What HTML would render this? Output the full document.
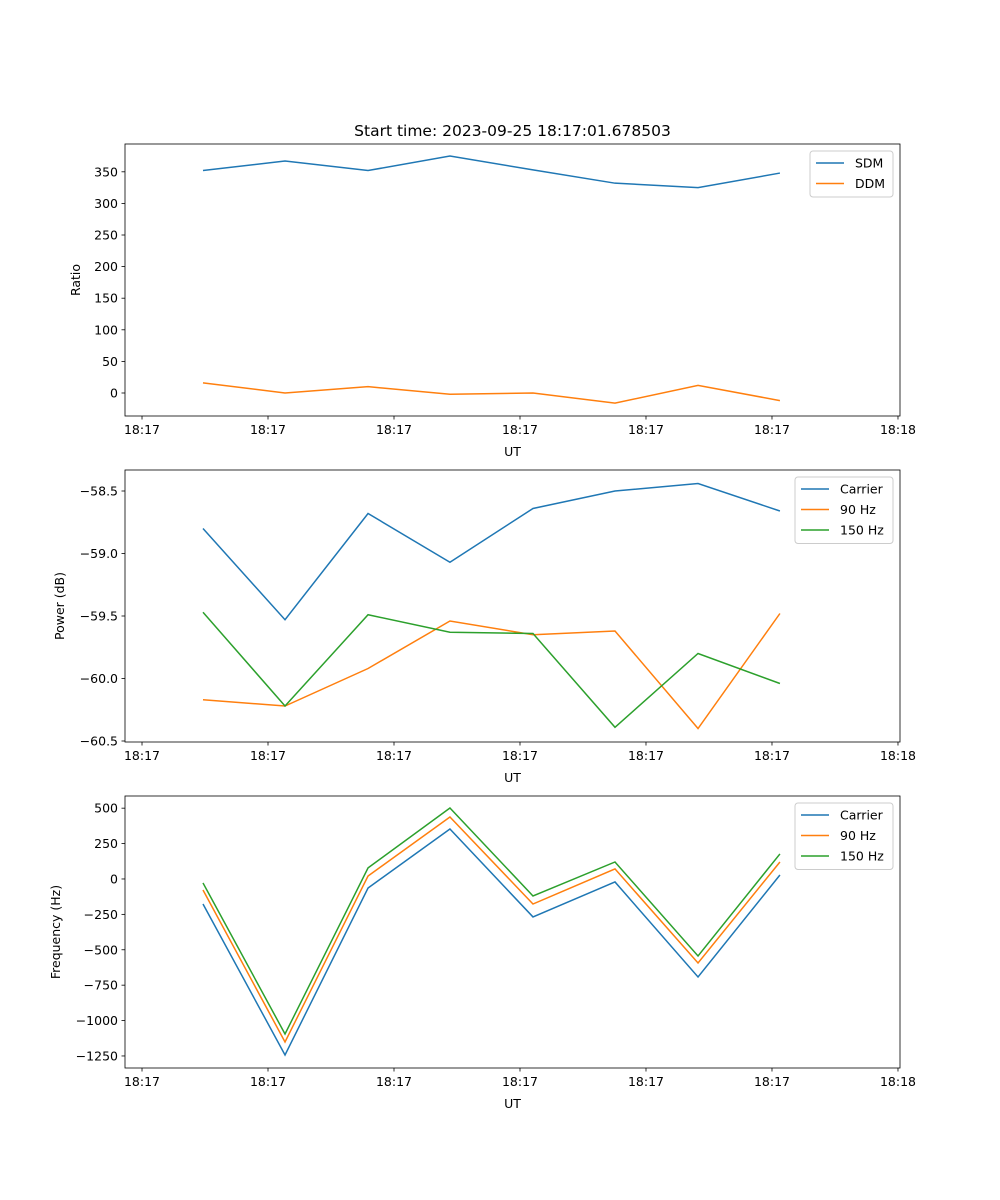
<!DOCTYPE html>
<html><head><meta charset="utf-8"><style>
html,body{margin:0;padding:0;background:#fff;}
svg{display:block;font-family:"DejaVu Sans","Liberation Sans",sans-serif;}
</style></head><body>
<svg id="fig" width="1000" height="1200" viewBox="0 0 1000 1200"></svg>
<script>
const sampleTimes = [4.84, 11.35, 17.94, 24.44, 31.03, 37.54, 44.13, 50.63];
const xTickValues = [0, 10, 20, 30, 40, 50, 60];
const xTickLabels = ["18:17","18:17","18:17","18:17","18:17","18:17","18:18"];
const sdm = [352, 367, 352, 375, 353, 332, 325, 348];
const ddm = [16, 0, 10, -2, 0, -16, 12, -12];
const powCarrier = [-58.80, -59.53, -58.68, -59.07, -58.64, -58.50, -58.44, -58.66];
const pow90 = [-60.17, -60.22, -59.92, -59.54, -59.65, -59.62, -60.40, -59.48];
const pow150 = [-59.47, -60.22, -59.49, -59.63, -59.64, -60.39, -59.80, -60.04];
const freqCarrier = [-177, -1243, -64, 353, -268, -21, -692, 28];
const freq90 = [-78, -1151, 21, 438, -177, 71, -593, 120];
const freq150 = [-28, -1095, 78, 501, -120, 120, -544, 177];
const ratioTicks = [0, 50, 100, 150, 200, 250, 300, 350];
const powerTicks = [-60.5, -60.0, -59.5, -59.0, -58.5];
const freqTicks = [-1250, -1000, -750, -500, -250, 0, 250, 500];

const NS = "http://www.w3.org/2000/svg";
const svg = document.getElementById("fig");
const C = {blue:"#1f77b4", orange:"#ff7f0e", green:"#2ca02c"};
function el(tag, attrs, parent){const e=document.createElementNS(NS,tag);for(const k in attrs)e.setAttribute(k,attrs[k]);(parent||svg).appendChild(e);return e;}
const X0=125, X1=900, XMIN=-1.35, XMAX=60.16;
const xs = v => X0 + (v-XMIN)/(XMAX-XMIN)*(X1-X0);
const FS = 12.5;

function panel(name, top, bottom, ymin, ymax, ticks, fmt, ylabel, ylabX, series, legend){
  const g = el("g",{});
  
  
  const ys = v => bottom - (v-ymin)/(ymax-ymin)*(bottom-top);
  series.forEach(s=>{
    const p = el("polyline",{points:s.vals.map((v,i)=>xs(sampleTimes[i])+","+ys(v)).join(" "),fill:"none",stroke:s.color,"stroke-width":1.5},g);
    
    
  });
  const fr = el("rect",{x:X0,y:top,width:X1-X0,height:bottom-top,fill:"none",stroke:"#000","stroke-width":0.8},g);
  
  
  ticks.forEach(t=>{
    const y=ys(t);
    el("line",{x1:X0-3.5,x2:X0,y1:y,y2:y,stroke:"#000","stroke-width":0.8},g);
    const tx=el("text",{x:X0-7,y:y+4.5,"text-anchor":"end","font-size":FS,fill:"#000"},g);
    tx.textContent=fmt(t);
    
    
  });
  xTickValues.forEach((t,i)=>{
    const x=xs(t);
    el("line",{x1:x,x2:x,y1:bottom,y2:bottom+3.5,stroke:"#000","stroke-width":0.8},g);
    const tx=el("text",{x:x,y:bottom+18,"text-anchor":"middle","font-size":FS,fill:"#000"},g);
    tx.textContent=xTickLabels[i];
    
    
  });
  const xl=el("text",{x:(X0+X1)/2,y:bottom+40,"text-anchor":"middle","font-size":FS},g);
  xl.textContent="UT";
  
  
  const yl=el("text",{x:ylabX,y:(top+bottom)/2,"text-anchor":"middle","font-size":FS,transform:`rotate(-90 ${ylabX} ${(top+bottom)/2})`},g);
  yl.textContent=ylabel;
  
  
  const lg=el("g",{},g);
  
  
  el("rect",{x:legend.x,y:top+7,width:legend.w,height:5+series.length*20.5,rx:3,fill:"#fff","fill-opacity":0.8,stroke:"#ccc","stroke-width":1},lg);
  series.forEach((s,i)=>{
    const y=top+7+12+i*20.5;
    el("line",{x1:legend.x+6,x2:legend.x+34,y1:y,y2:y,stroke:s.color,"stroke-width":1.5},lg);
    const t=el("text",{x:legend.x+45,y:y+4.5,"font-size":FS},lg);
    t.textContent=s.label;
    
    
  });
}

const title=el("text",{x:512.5,y:136,"text-anchor":"middle","font-size":15.5});
title.textContent="Start time: 2023-09-25 18:17:01.678503";



panel("ratio-panel",144,416,-36.4,394,ratioTicks,v=>String(v),"Ratio",80,
 [{id:"sdm-line",vals:sdm,color:C.blue,label:"SDM"},{id:"ddm-line",vals:ddm,color:C.orange,label:"DDM"}],{x:810,w:83});
panel("power-panel",470,742,-60.508,-58.332,powerTicks,v=>"\u2212"+Math.abs(v).toFixed(1),"Power (dB)",64,
 [{id:"carrier-power-line",vals:powCarrier,color:C.blue,label:"Carrier"},{id:"90hz-power-line",vals:pow90,color:C.orange,label:"90 Hz"},{id:"150hz-power-line",vals:pow150,color:C.green,label:"150 Hz"}],{x:795,w:98});
panel("frequency-panel",796,1068,-1335,586,freqTicks,v=>(v<0?"\u2212":"")+Math.abs(v),"Frequency (Hz)",60,
 [{id:"carrier-freq-line",vals:freqCarrier,color:C.blue,label:"Carrier"},{id:"90hz-freq-line",vals:freq90,color:C.orange,label:"90 Hz"},{id:"150hz-freq-line",vals:freq150,color:C.green,label:"150 Hz"}],{x:795,w:98});
</script>
</body></html>
